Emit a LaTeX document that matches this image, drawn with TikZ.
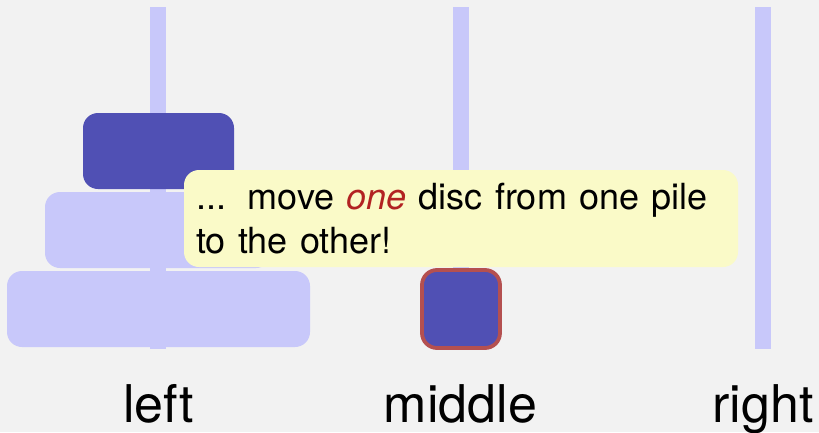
\documentclass[tikz,border=0pt]{standalone}
\usepackage{fontspec}
\setmainfont{TeX Gyre Heros}
\definecolor{bgcol}{RGB}{242,242,242}
\definecolor{pegblue}{RGB}{200,200,250}
\definecolor{discdark}{RGB}{80,80,180}
\definecolor{borderred}{RGB}{180,80,80}
\definecolor{oneRed}{RGB}{178,34,34}
\definecolor{calloutfill}{RGB}{250,250,200}
\newcommand{\myWideSpaces}{\spaceskip=0.34em plus 0.1em\relax}
\begin{document}
\begin{tikzpicture}[x=1pt,y=-1pt,
  peg/.style={fill=pegblue, draw=none, inner sep=0pt, minimum width=16pt, minimum height=342pt},
  disc/.style={draw=none, inner sep=0pt, rounded corners=15pt, minimum height=76pt},
  lightdisc/.style={disc, fill=pegblue},
  darkdisc/.style={disc, fill=discdark},
  movedisc/.style={fill=discdark, draw=borderred, line width=3.8pt, inner sep=0pt, rounded corners=15pt, minimum width=78pt, minimum height=78pt},
  calloutbox/.style={fill=calloutfill, draw=none, inner sep=0pt, rounded corners=15pt, minimum width=554pt, minimum height=97pt},
  callouttext/.style={inner sep=0pt, anchor=base west, font=\fontsize{36}{44}\selectfont},
  pilelabel/.style={inner sep=0pt, anchor=base, font=\fontsize{52}{62}\selectfont}]
\useasboundingbox (0,0) rectangle (819,432);
\fill[bgcol] (0,0) rectangle (819,432);
% pegs
\node (pegL) [peg] at (158,178) {};
\node (pegM) [peg] at (461,178) {};
\node (pegR) [peg] at (763,178) {};
% discs on left pile
\node (discBig) [lightdisc, minimum width=303pt] at (158.5,309) {};
\node (discMid) [lightdisc, minimum width=226pt] at (158,230) {};
\node (discTop) [darkdisc, minimum width=151pt] at (158.5,151) {};
% callout
\node (callout) [calloutbox] at (461,218.5) {};
\node (lineA) [callouttext] at (196,209) {\myWideSpaces...\hspace{0.6em}move \textcolor{oneRed}{\itshape one} disc from one pile};
\node (lineB) [callouttext] at (196,253) {\myWideSpaces to the other!};
% moving disc
\node (discMove) [movedisc] at (461,309) {};
% labels
\node (labL) [pilelabel] at (158.5,422) {left};
\node (labM) [pilelabel] at (460.5,422) {middle};
\node (labR) [pilelabel] at (763,422) {right};
\end{tikzpicture}
\end{document}
